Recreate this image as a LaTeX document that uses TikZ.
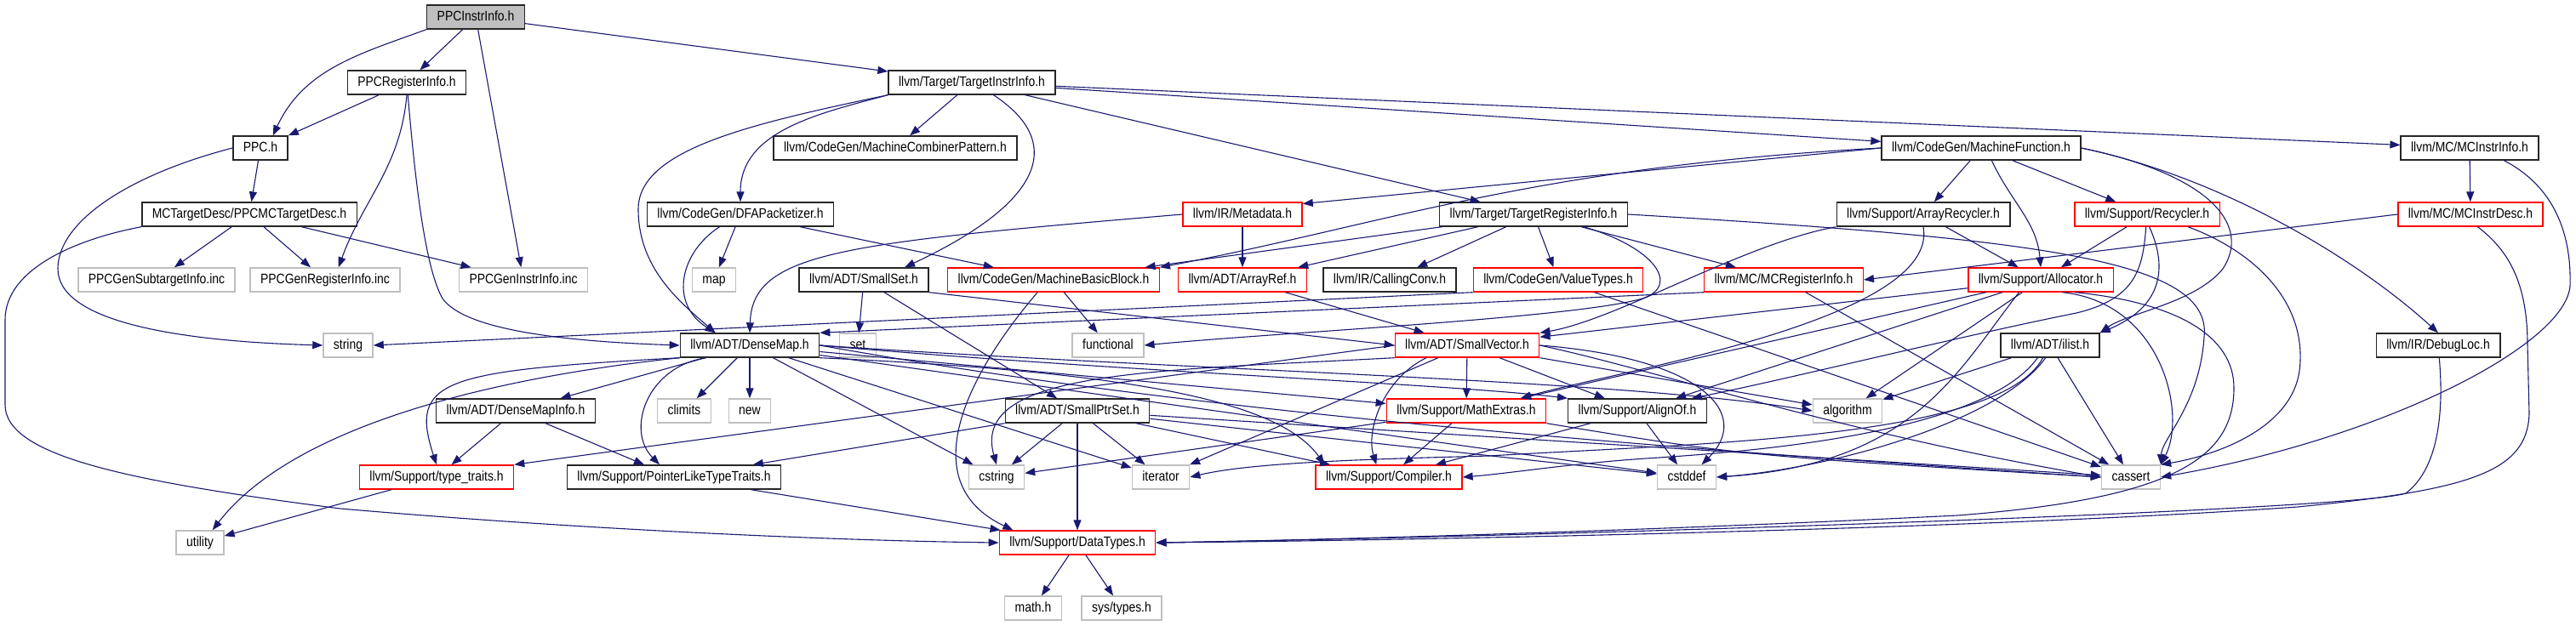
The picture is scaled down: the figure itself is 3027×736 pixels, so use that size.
\documentclass[tikz,border=0pt]{standalone}
\usepackage{fontspec}
\setmainfont{Liberation Sans}[FakeStretch=0.86]
\usetikzlibrary{arrows.meta}
\definecolor{IncBlue}{HTML}{191970}
\definecolor{TruncRed}{HTML}{FF0000}
\definecolor{SysGray}{HTML}{BFBFBF}
\definecolor{RootGray}{HTML}{BFBFBF}
\tikzset{
  incarrow/.style={-{Triangle[length=12pt,width=9pt]}, line width=1.1pt, draw=IncBlue}
}

\begin{document}
\begin{tikzpicture}[
  x=1pt, y=1pt,
  font=\fontsize{16.2}{18}\selectfont,
  hdr/.style={draw=black!85, line width=1.4pt, fill=white, inner xsep=12pt, inner ysep=0pt,
    minimum height=28pt, text height=11.8pt, text depth=3.4pt},
  trunc/.style={hdr, draw=TruncRed},
  sysh/.style={hdr, draw=SysGray},
  rootfile/.style={hdr, fill=RootGray}
]
\useasboundingbox (0,0) rectangle (3027,736);

% Nodes, row by row
\node[rootfile] at (559,716) (ppcinstr) {PPCInstrInfo.h};

\node[hdr] at (478,639) (ppcreg) {PPCRegisterInfo.h};
\node[hdr] at (1142,639) (tii) {llvm/Target/TargetInstrInfo.h};

\node[hdr] at (306,562) (ppch) {PPC.h};
\node[hdr] at (1052,562) (mcp) {llvm/CodeGen/MachineCombinerPattern.h};
\node[hdr] at (2328,562) (mfunc) {llvm/CodeGen/MachineFunction.h};
\node[hdr] at (2902,562) (mcii) {llvm/MC/MCInstrInfo.h};

\node[hdr] at (293,484) (mctd) {MCTargetDesc/PPCMCTargetDesc.h};
\node[hdr] at (870,484) (dfa) {llvm/CodeGen/DFAPacketizer.h};
\node[trunc] at (1460,484) (meta) {llvm/IR/Metadata.h};
\node[hdr] at (1802,484) (tri) {llvm/Target/TargetRegisterInfo.h};
\node[hdr] at (2260,484) (arec) {llvm/Support/ArrayRecycler.h};
\node[trunc] at (2523,484) (recyc) {llvm/Support/Recycler.h};
\node[trunc] at (2903,484) (mcid) {llvm/MC/MCInstrDesc.h};

\node[sysh] at (184,407) (gensub) {PPCGenSubtargetInfo.inc};
\node[sysh] at (382,407) (genreg) {PPCGenRegisterInfo.inc};
\node[sysh] at (615,407) (geninstr) {PPCGenInstrInfo.inc};
\node[sysh] at (839,407) (stdmap) {map};
\node[hdr] at (1015,407) (smallset) {llvm/ADT/SmallSet.h};
\node[trunc] at (1238,407) (mbb) {llvm/CodeGen/MachineBasicBlock.h};
\node[trunc] at (1460,407) (aref) {llvm/ADT/ArrayRef.h};
\node[hdr] at (1633,407) (cconv) {llvm/IR/CallingConv.h};
\node[trunc] at (1831,407) (vtypes) {llvm/CodeGen/ValueTypes.h};
\node[trunc] at (2096,407) (mcri) {llvm/MC/MCRegisterInfo.h};
\node[trunc] at (2398,407) (alloc) {llvm/Support/Allocator.h};

\node[sysh] at (409,330) (stdstring) {string};
\node[hdr] at (881,330) (densemap) {llvm/ADT/DenseMap.h};
\node[sysh] at (1008,330) (stdset) {set};
\node[sysh] at (1302,330) (functional) {functional};
\node[trunc] at (1724,330) (svec) {llvm/ADT/SmallVector.h};
\node[hdr] at (2409,330) (ilist) {llvm/ADT/ilist.h};
\node[hdr] at (2865,330) (debugloc) {llvm/IR/DebugLoc.h};

\node[hdr] at (606,253) (dmi) {llvm/ADT/DenseMapInfo.h};
\node[sysh] at (804,253) (climits) {climits};
\node[sysh] at (881,253) (stdnew) {new};
\node[hdr] at (1266,253) (sptrset) {llvm/ADT/SmallPtrSet.h};
\node[trunc] at (1723,253) (mathx) {llvm/Support/MathExtras.h};
\node[hdr] at (1924,253) (alignof) {llvm/Support/AlignOf.h};
\node[sysh] at (2171,253) (algorithm) {algorithm};

\node[trunc] at (513,175) (typetr) {llvm/Support/type\_traits.h};
\node[hdr] at (792,175) (pltt) {llvm/Support/PointerLikeTypeTraits.h};
\node[sysh] at (1171,175) (cstring) {cstring};
\node[sysh] at (1364,175) (iterator) {iterator};
\node[trunc] at (1632,175) (compiler) {llvm/Support/Compiler.h};
\node[sysh] at (1982,175) (cstddef) {cstddef};
\node[sysh] at (2504,175) (cassert) {cassert};

\node[sysh] at (235,98) (utility) {utility};
\node[trunc] at (1266,98) (datatypes) {llvm/Support/DataTypes.h};

\node[sysh] at (1214,21) (mathh) {math.h};
\node[sysh] at (1318,21) (systypes) {sys/types.h};

% PPCInstrInfo.h
\draw[incarrow] (ppcinstr.south west) to[out=200,in=65] (ppch.45);
\draw[incarrow] (ppcinstr) -- (ppcreg);
\draw[incarrow] (ppcinstr) -- (geninstr);
\draw[incarrow] (ppcinstr) -- (tii);

% PPCRegisterInfo.h
\draw[incarrow] (ppcreg) -- (ppch);
\draw[incarrow] (ppcreg.south) to[out=-95,in=70] (genreg.43);
\draw[incarrow] (ppcreg.-85) .. controls (488,520) and (500,420) .. (520,385) .. controls (545,350) and (650,335) .. (densemap.west);

% PPC.h and the target description
\draw[incarrow] (ppch) -- (mctd);
\draw[incarrow] (ppch.west) .. controls (150,530) and (68,475) .. (68,420) .. controls (68,360) and (200,335) .. (stdstring.west);
\draw[incarrow] (mctd) -- (gensub);
\draw[incarrow] (mctd) -- (genreg);
\draw[incarrow] (mctd) -- (geninstr);
\draw[incarrow] (mctd.south west) .. controls (90,455) and (6,420) .. (6,360) -- (6,260) .. controls (6,200) and (150,170) .. (400,138) .. controls (700,112) and (1000,100) .. (datatypes.west);

% TargetInstrInfo.h
\draw[incarrow] (tii) -- (mcp);
\draw[incarrow] (tii.south west) to[out=195,in=90] (dfa.north);
\draw[incarrow] (tii.south west) .. controls (880,590) and (750,560) .. (750,490) .. controls (750,420) and (800,380) .. (densemap.160);
\draw[incarrow] (tii.-30) .. controls (1250,570) and (1230,500) .. (smallset.17);
\draw[incarrow] (tii) -- (tri);
\draw[incarrow] (tii) -- (mfunc);
\draw[incarrow] (tii) -- (mcii);

% DFAPacketizer.h and Metadata.h
\draw[incarrow] (dfa) -- (stdmap);
\draw[incarrow] (dfa) -- (mbb);
\draw[incarrow] (dfa.-149) .. controls (800,440) and (785,380) .. (densemap.160);
\draw[incarrow] (meta.west) .. controls (990,450) and (884,440) .. (densemap.north);
\draw[incarrow] (meta) -- (aref);

% MachineFunction.h
\draw[incarrow] (mfunc) -- (arec);
\draw[incarrow] (mfunc.-50) to[out=-65,in=95] (alloc.north);
\draw[incarrow] (mfunc) -- (recyc);
\draw[incarrow] (mfunc.east) .. controls (2600,530) and (2645,470) .. (2612,420) .. controls (2580,380) and (2500,368) .. (ilist.north east);
\draw[incarrow] (mfunc.east) .. controls (2600,530) and (2760,440) .. (debugloc.north);
\draw[incarrow] (mfunc.west) -- (meta.10);
\draw[incarrow] (mfunc.west) .. controls (1800,540) and (1620,470) .. (mbb.north east);

% MC layer
\draw[incarrow] (mcii) -- (mcid);
\draw[incarrow] (mcii.-20) .. controls (2995,520) and (3022,470) .. (3020,400) .. controls (3015,330) and (2800,220) .. (cassert.east);
\draw[incarrow] (mcid.west) -- (mcri.east);
\draw[incarrow] (mcid.-60) .. controls (2950,440) and (2970,400) .. (2970,330) -- (2972,250) .. controls (2970,180) and (2900,160) .. (2700,140) .. controls (2300,112) and (1600,100) .. (datatypes.east);
\draw[incarrow] (debugloc.-85) .. controls (2872,250) and (2865,185) .. (2827,156) .. controls (2760,135) and (1800,105) .. (datatypes.east);
\draw[incarrow] (mcri.south west) -- (densemap.north east);
\draw[incarrow] (mcri) -- (cassert);

% TargetRegisterInfo.h
\draw[incarrow] (tri) -- (mbb);
\draw[incarrow] (tri) -- (aref);
\draw[incarrow] (tri) -- (cconv);
\draw[incarrow] (tri) -- (vtypes);
\draw[incarrow] (tri) -- (mcri);
\draw[incarrow] (tri.-14) .. controls (1945,445) and (1975,400) .. (1930,385) .. controls (1850,362) and (1500,345) .. (functional.east);
\draw[incarrow] (tri.east) .. controls (2400,455) and (2600,430) .. (2590,340) .. controls (2585,260) and (2540,220) .. (cassert.north east);

% Recyclers
\draw[incarrow] (arec) -- (alloc);
\draw[incarrow] (arec.south west) .. controls (2050,450) and (1900,360) .. (svec.north east);
\draw[incarrow] (arec.south) .. controls (2280,360) and (1900,300) .. (mathx.13);
\draw[incarrow] (recyc) -- (alloc);
\draw[incarrow] (recyc.-80) .. controls (2548,420) and (2540,375) .. (ilist.north east);
\draw[incarrow] (recyc.-95) .. controls (2518,420) and (2510,385) .. (2440,368) .. controls (2300,340) and (2100,290) .. (alignof.13);
\draw[incarrow] (recyc.-17) .. controls (2650,440) and (2712,380) .. (2702,300) .. controls (2692,230) and (2600,200) .. (cassert.north east);

% SmallSet.h, MachineBasicBlock.h, ArrayRef.h, ValueTypes.h
\draw[incarrow] (smallset) -- (stdset);
\draw[incarrow] (smallset) -- (sptrset);
\draw[incarrow] (smallset.south east) -- (svec.west);
\draw[incarrow] (mbb) -- (functional);
\draw[incarrow] (mbb.-142) .. controls (1140,300) and (1070,170) .. (datatypes.169);
\draw[incarrow] (aref) -- (svec);
\draw[incarrow] (vtypes.south west) -- (stdstring.east);
\draw[incarrow] (vtypes) -- (cassert);

% Allocator.h
\draw[incarrow] (alloc) -- (svec);
\draw[incarrow] (alloc) -- (mathx);
\draw[incarrow] (alloc) -- (alignof);
\draw[incarrow] (alloc) -- (algorithm);
\draw[incarrow] (alloc.-30) .. controls (2540,380) and (2570,250) .. (cassert.north east);
\draw[incarrow] (alloc.-150) .. controls (2300,300) and (2250,190) .. (cstddef.east);
\draw[incarrow] (alloc.-20) .. controls (2560,380) and (2625,340) .. (2625,280) .. controls (2625,200) and (2560,150) .. (2300,130) .. controls (1900,110) and (1500,100) .. (datatypes.east);

% SmallVector.h
\draw[incarrow] (svec) -- (mathx);
\draw[incarrow] (svec) -- (alignof);
\draw[incarrow] (svec.-163) .. controls (1625,290) and (1605,230) .. (compiler.135);
\draw[incarrow] (svec.east) .. controls (2000,315) and (2060,250) .. (cstddef.40);
\draw[incarrow] (svec) -- (algorithm);
\draw[incarrow] (svec.east) .. controls (1950,300) and (2150,230) .. (cassert.west);
\draw[incarrow] (svec.west) -- (typetr.north east);
\draw[incarrow] (svec.south west) .. controls (1350,300) and (1140,300) .. (cstring.north);
\draw[incarrow] (svec) -- (iterator);

% ilist.h
\draw[incarrow] (ilist) -- (algorithm);
\draw[incarrow] (ilist) -- (cassert);
\draw[incarrow] (ilist.-110) .. controls (2350,240) and (2150,185) .. (cstddef.east);
\draw[incarrow] (ilist.-120) .. controls (2350,220) and (2000,215) .. (1750,200) .. controls (1600,196) and (1470,192) .. (iterator.east);
\draw[incarrow] (ilist.-135) .. controls (2330,225) and (2050,205) .. (1950,198) .. controls (1850,192) and (1780,180) .. (compiler.east);

% DenseMap.h
\draw[incarrow] (densemap) -- (dmi);
\draw[incarrow] (densemap) -- (climits);
\draw[incarrow] (densemap) -- (stdnew);
\draw[incarrow] (densemap) -- (cstring);
\draw[incarrow] (densemap) -- (iterator);
\draw[incarrow] (densemap.south west) .. controls (560,290) and (340,230) .. (utility.45);
\draw[incarrow] (densemap.south west) .. controls (520,300) and (480,290) .. (typetr.north);
\draw[incarrow] (densemap.-164) .. controls (760,305) and (735,230) .. (pltt.139);
\draw[incarrow] (densemap) -- (mathx);
\draw[incarrow] (densemap.east) .. controls (1300,300) and (1700,285) .. (alignof.north west);
\draw[incarrow] (densemap.south east) .. controls (1300,300) and (1500,270) .. (compiler.169);
\draw[incarrow] (densemap.east) .. controls (1400,300) and (1900,290) .. (algorithm.west);
\draw[incarrow] (densemap.east) .. controls (1300,270) and (1700,225) .. (cassert.west);
\draw[incarrow] (densemap) -- (cstddef);

% DenseMapInfo.h and SmallPtrSet.h
\draw[incarrow] (dmi) -- (typetr);
\draw[incarrow] (dmi) -- (pltt);
\draw[incarrow] (sptrset.south west) -- (pltt.9);
\draw[incarrow] (sptrset) -- (cstring);
\draw[incarrow] (sptrset) -- (iterator);
\draw[incarrow] (sptrset) -- (datatypes);
\draw[incarrow] (sptrset) -- (compiler);
\draw[incarrow] (sptrset) -- (cassert);
\draw[incarrow] (sptrset) -- (cstddef);

% MathExtras.h and AlignOf.h
\draw[incarrow] (mathx) -- (compiler);
\draw[incarrow] (mathx) -- (cstring);
\draw[incarrow] (mathx.south east) .. controls (2050,200) .. (cassert.west);
\draw[incarrow] (alignof) -- (compiler);
\draw[incarrow] (alignof) -- (cstddef);

% Leaves
\draw[incarrow] (typetr) -- (utility);
\draw[incarrow] (pltt) -- (datatypes);
\draw[incarrow] (datatypes) -- (mathh);
\draw[incarrow] (datatypes) -- (systypes);
\end{tikzpicture}
\end{document}
